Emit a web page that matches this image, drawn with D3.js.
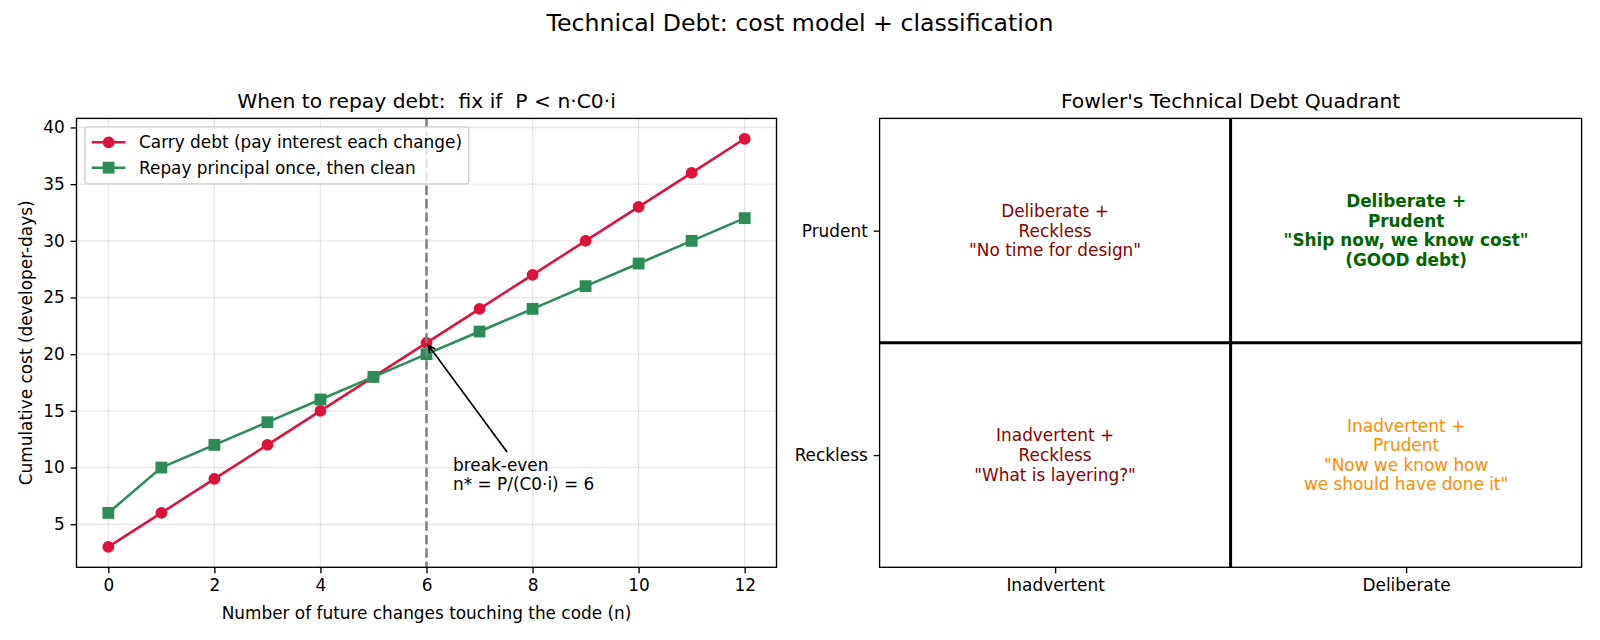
<!DOCTYPE html>
<html>
<head>
<meta charset="utf-8">
<script src="https://cdn.jsdelivr.net/npm/d3@7"></script>
<style>
  body { margin: 0; background: #fff; }
  svg { font-family: "DejaVu Sans", sans-serif; }
</style>
</head>
<body>
<svg id="fig" width="1600" height="640"></svg>
<script>
// ---- data ----
const changes = [0, 1, 2, 3, 4, 5, 6, 7, 8, 9, 10, 11, 12]
const carryCost = [3, 6, 9, 12, 15, 18, 21, 24, 27, 30, 33, 36, 39]
const repayCost = [6, 10, 12, 14, 16, 18, 20, 22, 24, 26, 28, 30, 32]
const seriesNames = ['Carry debt (pay interest each change)', 'Repay principal once, then clean']
const xTicks = [0, 2, 4, 6, 8, 10, 12]
const yTicks = [5, 10, 15, 20, 25, 30, 35, 40]
const breakEven = 6
const annotPoint = [6, 21]
const annotText = [6.5, 8]
const annotLines = ['break-even', 'n* = P/(C0·i) = 6']

const xCats = ['Inadvertent', 'Deliberate']
const yCats = ['Reckless', 'Prudent']
const quadCells = [
    {x: 'Inadvertent', y: 'Prudent', lines: ['Deliberate +', 'Reckless', '"No time for design"']},
    {x: 'Deliberate', y: 'Prudent', lines: ['Deliberate +', 'Prudent', '"Ship now, we know cost"', '(GOOD debt)']},
    {x: 'Inadvertent', y: 'Reckless', lines: ['Inadvertent +', 'Reckless', '"What is layering?"']},
    {x: 'Deliberate', y: 'Reckless', lines: ['Inadvertent +', 'Prudent', '"Now we know how', 'we should have done it"']},
]

// ---- styles ----
const seriesColor = ['#dc143c', '#2e8b57']
const quadColor = ['#8b0000', '#006400', '#8b0000', '#ff8c00']
const quadWeight = ['normal', 'bold', 'normal', 'normal']
const PT = 1.69          // px per point
const FS = 10 * PT       // base font size
const LW = 1.5 * PT      // line width
const MS = 6 * PT        // marker size
const SPINE = 0.8 * PT
const TICK = 3.5 * PT

const svg = d3.select('#fig')

svg.append('text')
    .attr('x', 800).attr('y', 23).attr('dy', '0.35em')
    .attr('text-anchor', 'middle')
    .attr('font-size', 14 * PT)
    .text('Technical Debt: cost model + classification')

function styleAxis(a) {
    a.select('.domain').remove()
    a.selectAll('.tick line').attr('stroke-width', SPINE)
    a.selectAll('.tick text').attr('font-size', FS).attr('font-family', 'DejaVu Sans').attr('fill', 'black')
}

class CostChart {
    constructor(_config) {
        this.config = {
            left: _config.left, right: _config.right,
            top: _config.top, bottom: _config.bottom
        }
        this.initVis()
    }

    initVis() {
        let vis = this
        let c = vis.config
        vis.g = svg.append('g')

        vis.xScale = d3.scaleLinear().domain([-0.6, 12.6]).range([c.left, c.right])
        vis.yScale = d3.scaleLinear().domain([1.2, 40.8]).range([c.bottom, c.top])

        // grid
        vis.g.append('g').selectAll('line')
            .data(xTicks).join('line')
            .attr('x1', d => vis.xScale(d)).attr('x2', d => vis.xScale(d))
            .attr('y1', c.top).attr('y2', c.bottom)
            .attr('stroke', '#b0b0b0').attr('stroke-opacity', 0.3).attr('stroke-width', SPINE)
        vis.g.append('g').selectAll('line')
            .data(yTicks).join('line')
            .attr('y1', d => vis.yScale(d)).attr('y2', d => vis.yScale(d))
            .attr('x1', c.left).attr('x2', c.right)
            .attr('stroke', '#b0b0b0').attr('stroke-opacity', 0.3).attr('stroke-width', SPINE)

        vis.xAxis = d3.axisBottom(vis.xScale).tickValues(xTicks).tickSize(TICK).tickPadding(TICK)
        vis.yAxis = d3.axisLeft(vis.yScale).tickValues(yTicks).tickSize(TICK).tickPadding(TICK)

        vis.renderVis()
    }

    drawMarker(sel, si, x, y) {
        if (si == 0) {
            sel.append('circle').attr('cx', x).attr('cy', y).attr('r', MS / 2)
                .attr('fill', seriesColor[si]).attr('stroke', seriesColor[si]).attr('stroke-width', PT)
        } else {
            sel.append('rect').attr('x', x - MS / 2).attr('y', y - MS / 2)
                .attr('width', MS).attr('height', MS)
                .attr('fill', seriesColor[si]).attr('stroke', seriesColor[si]).attr('stroke-width', PT)
        }
    }

    renderVis() {
        let vis = this
        let c = vis.config
        let series = [carryCost, repayCost]

        series.forEach((vals, si) => {
            let pts = changes.map((n, i) => [n, vals[i]])
            vis.g.append('path')
                .attr('d', d3.line().x(d => vis.xScale(d[0])).y(d => vis.yScale(d[1]))(pts))
                .attr('fill', 'none')
                .attr('stroke', seriesColor[si])
                .attr('stroke-width', LW)
            let mg = vis.g.append('g')
            pts.forEach(d => vis.drawMarker(mg, si, vis.xScale(d[0]), vis.yScale(d[1])))
        })

        // break-even line
        vis.g.append('line')
            .attr('x1', vis.xScale(breakEven)).attr('x2', vis.xScale(breakEven))
            .attr('y1', c.top).attr('y2', c.bottom)
            .attr('stroke', 'gray').attr('stroke-width', LW)
            .attr('stroke-dasharray', `${3.7 * LW},${1.6 * LW}`)

        // annotation
        let pitch = 19.6
        let at = vis.g.append('text')
            .attr('x', vis.xScale(annotText[0]))
            .attr('y', vis.yScale(annotText[1]))
            .attr('font-size', FS)
        annotLines.forEach((l, i) => {
            at.append('tspan')
                .attr('x', vis.xScale(annotText[0]))
                .attr('dy', i == 0 ? -(annotLines.length - 1) * pitch : pitch)
                .text(l)
        })
        let bb = at.node().getBBox()
        let cx = bb.x + bb.width / 2, cy = bb.y + bb.height / 2
        let px = vis.xScale(annotPoint[0]), py = vis.yScale(annotPoint[1])
        let dx = px - cx, dy = py - cy
        let len = Math.hypot(dx, dy)
        let ux = dx / len, uy = dy / len
        let tEdge = Math.min(Math.abs((bb.height / 2) / uy), Math.abs((bb.width / 2) / ux))
        let shrink = 2 * PT
        let sx = cx + ux * (tEdge + shrink), sy = cy + uy * (tEdge + shrink)
        let ex = px - ux * shrink, ey = py - uy * shrink
        vis.g.append('line')
            .attr('x1', sx).attr('y1', sy).attr('x2', ex).attr('y2', ey)
            .attr('stroke', 'black').attr('stroke-width', PT)
        let hl = 0.4 * FS, hw = 0.2 * FS
        let bx = ex - ux * hl, by = ey - uy * hl
        vis.g.append('path')
            .attr('d', `M${bx - uy * hw},${by + ux * hw}L${ex},${ey}L${bx + uy * hw},${by - ux * hw}`)
            .attr('fill', 'none').attr('stroke', 'black').attr('stroke-width', PT)

        // spines and axes
        vis.g.append('rect')
            .attr('x', c.left).attr('y', c.top)
            .attr('width', c.right - c.left).attr('height', c.bottom - c.top)
            .attr('fill', 'none').attr('stroke', 'black').attr('stroke-width', SPINE)

        styleAxis(vis.g.append('g').attr('transform', `translate(0,${c.bottom})`).call(vis.xAxis))
        styleAxis(vis.g.append('g').attr('transform', `translate(${c.left},0)`).call(vis.yAxis))

        vis.g.append('text')
            .attr('x', (c.left + c.right) / 2).attr('y', 613).attr('dy', '0.35em')
            .attr('text-anchor', 'middle').attr('font-size', FS)
            .text('Number of future changes touching the code (n)')
        vis.g.append('text')
            .attr('transform', `translate(26,${(c.top + c.bottom) / 2}) rotate(-90)`)
            .attr('dy', '0.35em')
            .attr('text-anchor', 'middle').attr('font-size', FS)
            .text('Cumulative cost (developer-days)')
        vis.g.append('text')
            .attr('x', (c.left + c.right) / 2).attr('y', c.top - 6 * PT)
            .attr('text-anchor', 'middle').attr('font-size', 12 * PT)
            .style('white-space', 'pre')
            .text('When to repay debt:  fix if  P < n·C0·i')

        // legend
        let lg = vis.g.append('g')
        let lx = c.left + 0.5 * FS, ly = c.top + 0.5 * FS
        let box = lg.append('rect')
            .attr('x', lx).attr('y', ly).attr('rx', 0.2 * FS).attr('ry', 0.2 * FS)
            .attr('height', 57)
            .attr('fill', 'white').attr('fill-opacity', 0.8)
            .attr('stroke', '#cccccc').attr('stroke-width', SPINE)
        let maxW = 0
        let hx0 = lx + 0.4 * FS, hx1 = hx0 + 2 * FS, tx = hx1 + 0.8 * FS
        seriesNames.forEach((name, i) => {
            let yy = ly + 15.5 + i * 25.3
            lg.append('line')
                .attr('x1', hx0).attr('x2', hx1)
                .attr('y1', yy).attr('y2', yy)
                .attr('stroke', seriesColor[i]).attr('stroke-width', LW)
            vis.drawMarker(lg, i, (hx0 + hx1) / 2, yy)
            let t = lg.append('text')
                .attr('x', tx).attr('y', yy).attr('dy', '0.35em')
                .attr('font-size', FS).text(name)
            maxW = Math.max(maxW, t.node().getComputedTextLength())
        })
        box.attr('width', tx - lx + maxW + 0.4 * FS)
    }
}

class QuadrantChart {
    constructor(_config) {
        this.config = {
            left: _config.left, right: _config.right,
            top: _config.top, bottom: _config.bottom
        }
        this.initVis()
    }

    initVis() {
        let vis = this
        let c = vis.config
        vis.g = svg.append('g')
        vis.xScale = d3.scaleLinear().domain([0, 2]).range([c.left, c.right])
        vis.yScale = d3.scaleLinear().domain([0, 2]).range([c.bottom, c.top])
        vis.xPos = d => vis.xScale(xCats.indexOf(d) + 0.5)
        vis.yPos = d => vis.yScale(yCats.indexOf(d) + 0.5)
        vis.renderVis()
    }

    renderVis() {
        let vis = this
        let c = vis.config

        vis.g.append('line')
            .attr('x1', vis.xScale(1)).attr('x2', vis.xScale(1))
            .attr('y1', c.top).attr('y2', c.bottom)
            .attr('stroke', 'black').attr('stroke-width', 3)
        vis.g.append('line')
            .attr('y1', vis.yScale(1)).attr('y2', vis.yScale(1))
            .attr('x1', c.left).attr('x2', c.right)
            .attr('stroke', 'black').attr('stroke-width', 3)

        quadCells.forEach((q, i) => {
            let t = vis.g.append('text')
                .attr('text-anchor', 'middle')
                .attr('font-size', FS)
                .attr('font-weight', quadWeight[i])
                .attr('fill', quadColor[i])
            let n = q.lines.length
            let pitch = 19.6
            q.lines.forEach((l, j) => {
                t.append('tspan')
                    .attr('x', vis.xPos(q.x))
                    .attr('y', vis.yPos(q.y) + (j - (n - 1) / 2) * pitch)
                    .attr('dy', '0.35em')
                    .text(l)
            })
        })

        vis.g.append('rect')
            .attr('x', c.left).attr('y', c.top)
            .attr('width', c.right - c.left).attr('height', c.bottom - c.top)
            .attr('fill', 'none').attr('stroke', 'black').attr('stroke-width', SPINE)

        styleAxis(vis.g.append('g').attr('transform', `translate(0,${c.bottom})`)
            .call(d3.axisBottom(vis.xScale).tickValues([0.5, 1.5]).tickFormat((d, i) => xCats[i]).tickSize(TICK).tickPadding(TICK)))
        styleAxis(vis.g.append('g').attr('transform', `translate(${c.left},0)`)
            .call(d3.axisLeft(vis.yScale).tickValues([0.5, 1.5]).tickFormat((d, i) => yCats[i]).tickSize(TICK).tickPadding(TICK)))

        vis.g.append('text')
            .attr('x', (c.left + c.right) / 2).attr('y', c.top - 6 * PT)
            .attr('text-anchor', 'middle').attr('font-size', 12 * PT)
            .text("Fowler's Technical Debt Quadrant")
    }
}

new CostChart({left: 76.5, right: 776.5, top: 118.4, bottom: 567.3})
new QuadrantChart({left: 879.6, right: 1581.6, top: 118.4, bottom: 567.3})
</script>
</body>
</html>
